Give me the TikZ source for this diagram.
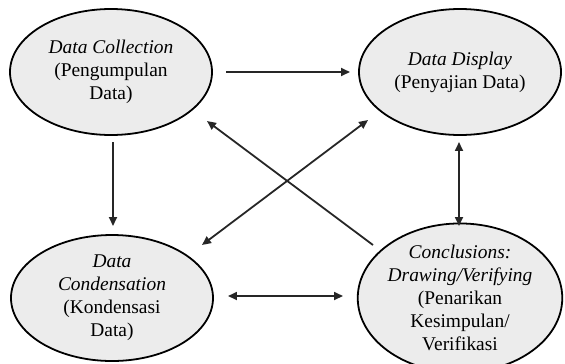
\documentclass[tikz,border=0pt]{standalone}
\usepackage{fontspec}
\setmainfont{Liberation Serif}
\usetikzlibrary{arrows.meta,shapes.geometric}

\tikzset{
  stage/.style={ellipse,draw=black,line width=1.8pt,fill=gray!15,minimum width=202bp,minimum height=126bp,
    inner sep=0pt,align=center,font=\fontsize{19.5}{23}\selectfont},
  flow/.style={line width=1.8pt,draw=black!85,-{Triangle[length=9pt,width=8pt]}},
  flowboth/.style={flow,{Triangle[length=9pt,width=8pt]}-{Triangle[length=9pt,width=8pt]}}
}

\begin{document}
\begin{tikzpicture}[x=1bp,y=-1bp]
\useasboundingbox (0,0) rectangle (565,363);

\node[stage] (collect) at (111,72) {\textit{Data Collection}\\(Pengumpulan\\Data)};
\node[stage] (display) at (460,72) {\textit{Data Display}\\(Penyajian Data)};
\node[stage] (condense) at (112,298) {\textit{Data}\\\textit{Condensation}\\(Kondensasi\\Data)};
\node[stage] (conclude) at (460,298) {\textit{Conclusions:}\\\textit{Drawing/Verifying}\\(Penarikan\\Kesimpulan/\\Verifikasi};

\coordinate[] (A) at (226,72);
\coordinate[] (B) at (350,72);
\coordinate[] (C) at (113,142);
\coordinate[] (D) at (113,226);
\coordinate[] (E) at (459,142);
\coordinate[] (F) at (459,226);
\coordinate[] (G) at (228,296);
\coordinate[] (H) at (343,296);
\coordinate[] (I) at (373,245);
\coordinate[] (J) at (207,121);
\coordinate[] (K) at (202,245);
\coordinate[] (L) at (368,120);

\draw[flow] (A) -- (B);
\draw[flow] (C) -- (D);
\draw[flowboth] (E) -- (F);
\draw[flowboth] (G) -- (H);
\draw[flow] (I) -- (J);
\draw[flowboth] (K) -- (L);
\end{tikzpicture}
\end{document}
